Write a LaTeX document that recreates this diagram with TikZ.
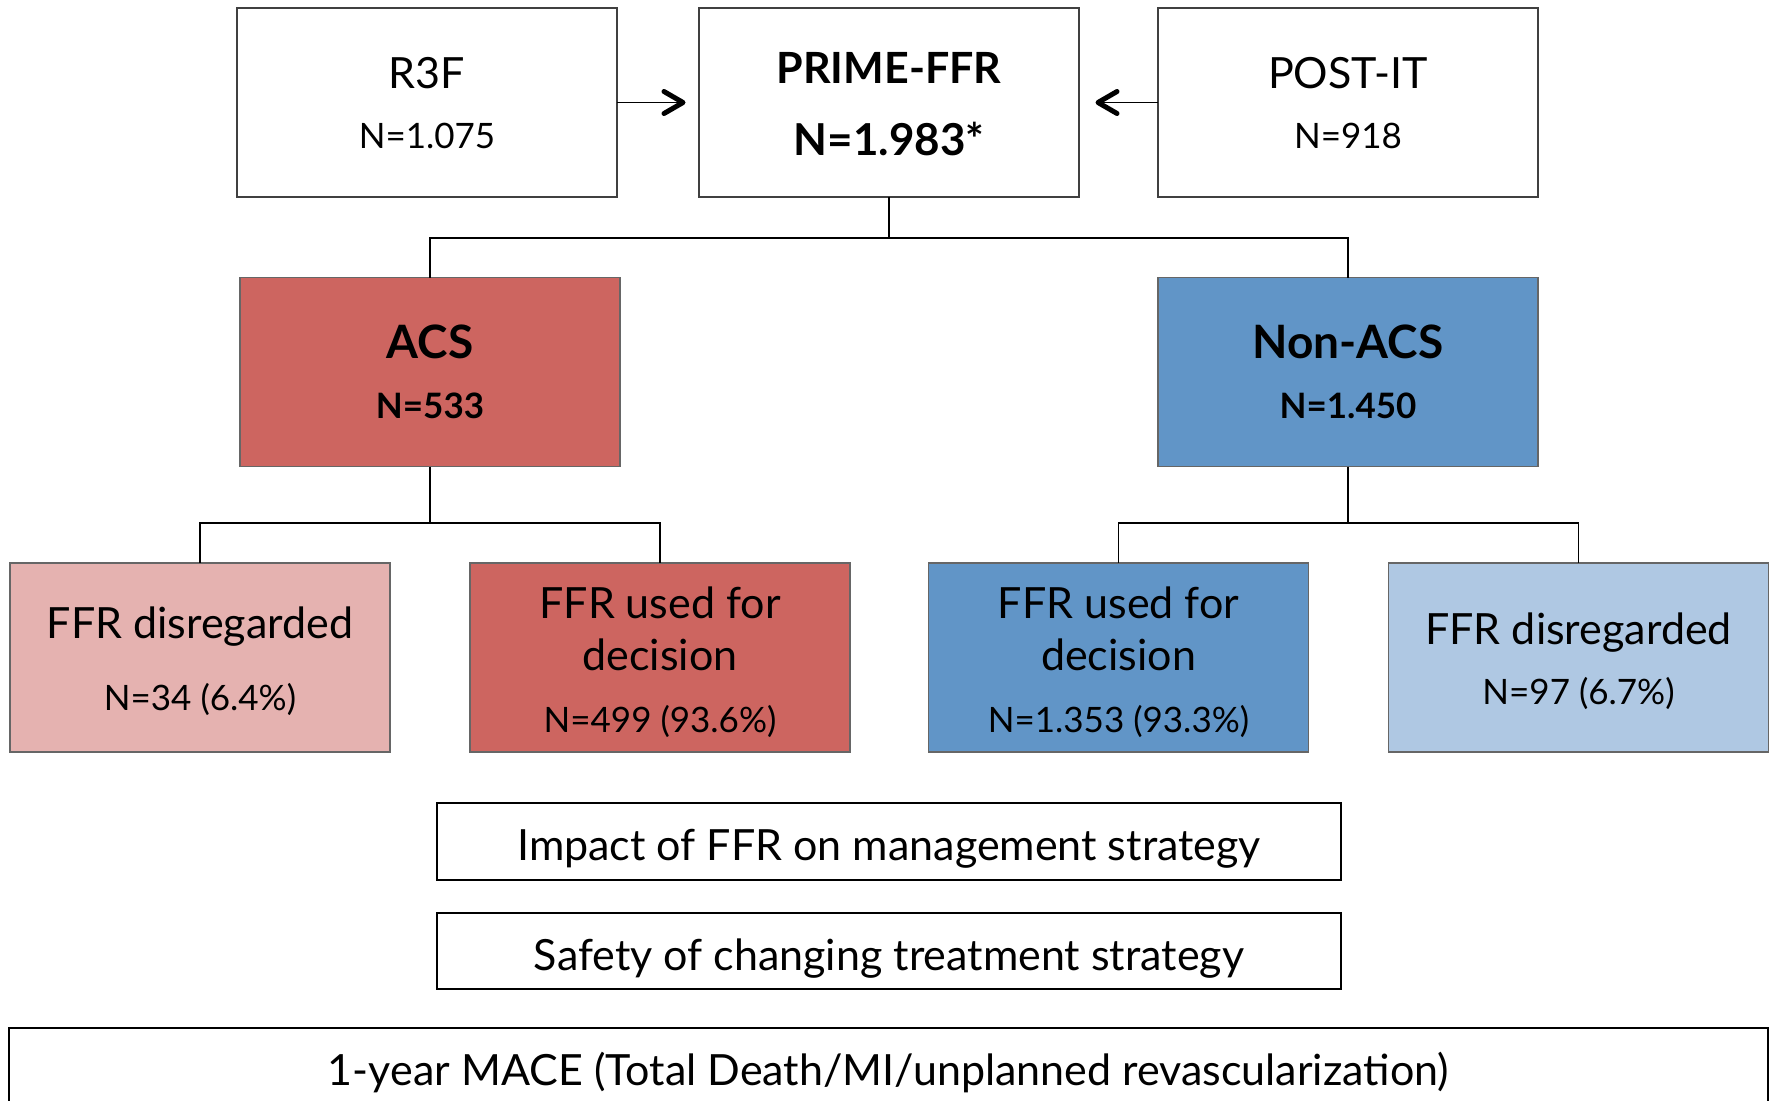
\documentclass[tikz,border=0pt]{standalone}
\usepackage{fontspec}
\setmainfont{Lato}
\usetikzlibrary{arrows.meta}
\definecolor{accred}{RGB}{205,101,96}
\definecolor{lightred}{RGB}{229,178,176}
\definecolor{accblue}{RGB}{97,149,199}
\definecolor{lightblue}{RGB}{175,200,227}
\tikzset{
  box/.style={draw=black!75, line width=1.5pt, minimum width=380pt, minimum height=189pt, inner sep=0pt, outer sep=0pt},
  wide/.style={draw=black, line width=2pt, minimum width=904pt, minimum height=77pt, inner sep=0pt, outer sep=0pt},
  txt/.style={anchor=base, inner sep=0pt, outer sep=0pt, text=black},
  big/.style={font=\fontsize{43}{50}\selectfont},
  small/.style={font=\fontsize{35}{42}\selectfont},
  bigbold/.style={font=\fontsize{43}{50}\selectfont\bfseries},
  smallbold/.style={font=\fontsize{35}{42}\selectfont\bfseries},
  conn/.style={draw=black, line width=1.5pt},
  arrline/.style={draw=black, line width=1.8pt},
  arrhead/.style={draw=black, line width=5pt, line cap=round, line join=round},
}
\begin{document}
\begin{tikzpicture}[x=1pt,y=-1pt]
\useasboundingbox (0,0) rectangle (1776,1100);
\clip (0,0) rectangle (1776,1100);

% top row
\node[box] (r3f) at (427,102.5) {};
\node[box] (prime) at (889,102.5) {};
\node[box] (postit) at (1348,102.5) {};
\node[txt,big] (r3fa) at (427,88) {R3F};
\node[txt,small] (r3fb) at (427,148) {N=1.075};
\node[txt,bigbold] (primea) at (889,83) {PRIME-FFR};
\node[txt,font=\fontsize{44}{50}\selectfont\bfseries] (primeb) at (889,155) {N=1.983*};
\node[txt,big] (postita) at (1348,88) {POST-IT};
\node[txt,small] (postitb) at (1348,148) {N=918};

\coordinate (r3ftip) at (683,102.5);
\coordinate (posttip) at (1098,102.5);
\draw[arrline] (r3f.east) -- (r3ftip);
\draw[arrhead] ([shift={(-19,-11)}]r3ftip) -- (r3ftip) -- ([shift={(-19,11)}]r3ftip);
\draw[arrline] (postit.west) -- (posttip);
\draw[arrhead] ([shift={(19,-11)}]posttip) -- (posttip) -- ([shift={(19,11)}]posttip);

% second row
\node[box,fill=accred,draw=black!60] (acs) at (430,372) {};
\node[box,fill=accblue,draw=black!60] (nonacs) at (1348,372) {};
\node[txt,font=\fontsize{46}{52}\selectfont\bfseries] (acsa) at (430,358) {ACS};
\node[txt,smallbold] (acsb) at (430,418) {N=533};
\node[txt,font=\fontsize{46}{52}\selectfont\bfseries] (nonacsa) at (1348,358) {Non-ACS};
\node[txt,smallbold] (nonacsb) at (1348,418) {N=1.450};

\coordinate (j1) at (889,238);
\draw[conn] (prime.south) -- (j1);
\draw[conn] (acs.north) |- (j1) -| (nonacs.north);

% third row
\node[box,fill=lightred,draw=black!60] (dl) at (200,657.5) {};
\node[box,fill=accred,draw=black!60] (ul) at (660,657.5) {};
\node[box,fill=accblue,draw=black!60] (ur) at (1118.5,657.5) {};
\node[box,fill=lightblue,draw=black!60] (dr) at (1578.5,657.5) {};

\coordinate (j2) at (430,523);
\coordinate (j3) at (1348,523);
\draw[conn] (acs.south) -- (j2);
\draw[conn] (dl.north) |- (j2) -| (ul.north);
\draw[conn] (nonacs.south) -- (j3);
\draw[conn] (ur.north) |- (j3) -| (dr.north);

\node[txt,big] (dla) at (200,638) {FFR disregarded};
\node[txt,small] (dlb) at (200,710) {N=34 (6.4\%)};
\node[txt,big] (ula) at (660,618) {FFR used for};
\node[txt,big] (ulb) at (660,670) {decision};
\node[txt,small] (ulc) at (660,732) {N=499 (93.6\%)};
\node[txt,big] (ura) at (1118.5,618) {FFR used for};
\node[txt,big] (urb) at (1118.5,670) {decision};
\node[txt,small] (urc) at (1118.5,732) {N=1.353 (93.3\%)};
\node[txt,big] (dra) at (1578.5,644) {FFR disregarded};
\node[txt,small] (drb) at (1578.5,704) {N=97 (6.7\%)};

% bottom boxes
\node[wide] (impact) at (889,841.5) {};
\node[txt,big] (impacta) at (889,860) {Impact of FFR on management strategy};
\node[wide,minimum height=76pt] (safety) at (889,951) {};
\node[txt,big] (safetya) at (889,970) {Safety of changing treatment strategy};
\node[wide,minimum width=1759pt,minimum height=102pt] (mace) at (888.5,1079) {};
\node[txt,big] (macea) at (888.5,1085) {1-year MACE (Total Death/MI/unplanned revascularization)};
\end{tikzpicture}
\end{document}
